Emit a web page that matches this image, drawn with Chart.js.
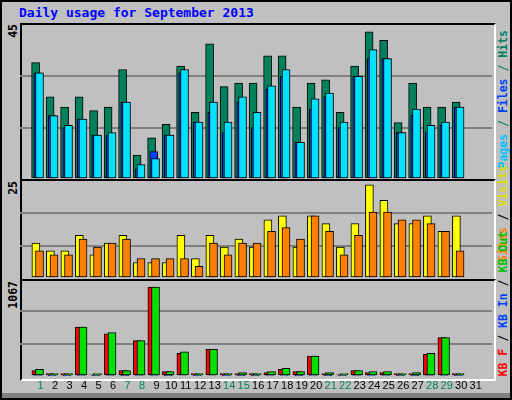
<!DOCTYPE html>
<html>
<head>
<meta charset="utf-8">
<script src="https://cdn.jsdelivr.net/npm/chart.js@4"></script>
<style>
  body { margin: 0; }
  #frame { position: relative; width: 508px; height: 396px; background: #c0c0c0; border: 2px solid #000; overflow: hidden; }
  .panel { position: absolute; left: 18px; width: 472px; background: #c0c0c0;
           border-left: 2px solid #000; border-top: 2px solid #000; border-right: 2px solid #fff; border-bottom: 2px solid #fff; }
  .cv { position: absolute; }
  .vt { position: absolute; writing-mode: vertical-rl; transform: rotate(180deg); font: bold 11.5px "DejaVu Sans Mono", monospace; white-space: nowrap; }
  #title { position: absolute; left: 17px; top: 3px; color: #0000ff; font: bold 13px "DejaVu Sans Mono", monospace; }
  #foot { position: absolute; left: 0; top: 391px; width: 508px; height: 6px; background: #808080; }
</style>
</head>
<body>
<div id="frame">
  <div id="title">Daily usage for September 2013</div>
  <div class="panel" style="top:21px;height:154px"></div>
  <div class="panel" style="top:177px;height:98px"></div>
  <div class="panel" style="top:277px;height:98px"></div>
  <div id="foot"></div>
  <div class="vt" style="left:4px;top:22px;color:#000">45</div>
  <div class="vt" style="left:4px;top:179px;color:#000">25</div>
  <div class="vt" style="left:4px;top:279px;color:#000">1067</div>
  <div class="vt" style="left:494px;bottom:230px;color:#00805c"><span style="color:#00c0ff">Pages</span> / <span style="color:#0040ff">Files</span> / Hits</div>
  <div class="vt" style="left:494px;bottom:136px;"><span style="color:#ff8000">Sites</span> / <span style="color:#e0e000">Visits</span></div>
  <div class="vt" style="left:494px;bottom:22px;"><span style="color:#ff0000">KB F</span> <span style="color:#000">/</span> <span style="color:#0040ff">KB In</span> <span style="color:#000">/</span> <span style="color:#00c000">KB Out</span></div>
  <canvas id="c1" class="cv" style="left:18px;top:23px"></canvas>
  <canvas id="c2" class="cv" style="left:18px;top:179px"></canvas>
  <canvas id="c3" class="cv" style="left:18px;top:277px"></canvas>
</div>
<script>
const days = [1,2,3,4,5,6,7,8,9,10,11,12,13,14,15,16,17,18,19,20,21,22,23,24,25,26,27,28,29,30];
const weekend = [1,7,8,14,15,21,22,28,29];
const hits  = [34,24,21,24,20,21,32,7,12,16,33,19.5,39.5,27,28,28,36,36,21,28,29,19.5,33,43,40.5,16.5,28,21,21,22.5];
const files = [31,18.5,15,17.5,12.8,12.8,22.5,3,8,12.8,31,16.6,19.5,13.6,22.5,15,26.3,30,10.7,20.4,24,15,30,35.2,35.2,13.6,18.6,13.6,15.7,21];
const pages = [31,18.5,15.7,17.5,12.8,13.6,22.5,4.2,6,12.8,32,16.6,22.5,16.6,24,19.5,27.2,32,10.7,23.4,25.1,16.6,30,37.8,35.2,13.6,20.4,15.7,16.6,21];
const visits = [9,7,7,11,6,9,11,4,4,4,11,5,11,8,10,8,15,16,8,16,14,8,14,24,20,14,14,16,12,16];
const sites  = [7,6,6,10,8,9,10,5,5,5,5,3,9,6,9,9,12,13,10,16,12,6,11,17,17,15,15,14,12,7];
const kbF   = [57,25,25,537,11,462,57,388,978,46,249,25,292,25,25,25,36,71,46,217,25,11,57,36,36,25,25,238,420,25];
const kbIn  = [4,2,2,3,1,3,2,3,4,2,6,2,6,2,2,2,3,4,2,3,2,1,4,5,5,2,2,3,3,2];
const kbOut = [71,25,25,537,25,477,57,388,978,46,263,25,292,25,36,25,46,82,46,217,36,25,57,46,46,25,36,249,420,25];
const maxes = [45, 25, 1067];

function pts(vals, off) { return days.map((d, i) => ({ x: d + off, y: vals[i] })); }
function ds(vals, off, color, order) {
  return { data: pts(vals, off), backgroundColor: color, borderColor: "#000", borderWidth: 1,
           barThickness: 8, grouped: false, order: order, borderSkipped: false };
}
function makeChart(id, w, h, max, datasets, showX) {
  const cv = document.getElementById(id);
  cv.width = w; cv.height = h; cv.style.width = w + "px"; cv.style.height = h + "px";
  return new Chart(cv, {
    type: "bar",
    data: { datasets: datasets },
    options: {
      responsive: false, animation: false, devicePixelRatio: 1,
      layout: { padding: 0 },
      plugins: { legend: { display: false }, tooltip: { enabled: false } },
      scales: {
        x: { type: "linear", min: 0.1, max: 31.6, display: showX,
             grid: { display: false, drawTicks: false }, border: { display: false },
             afterBuildTicks: s => { s.ticks = Array.from({ length: 31 }, (_, i) => ({ value: i + 1 })); },
             ticks: { autoSkip: false, maxRotation: 0, padding: 4,
                      font: { family: "Liberation Sans", size: 11 },
                      color: c => weekend.includes(c.tick.value) ? "#008060" : "#000",
                      callback: v => String(v) } },
        y: { min: 0, max: max, display: true,
             afterBuildTicks: s => { s.ticks = [0, max / 3, 2 * max / 3, max].map(v => ({ value: v })); },
             ticks: { display: false }, border: { display: false },
             grid: { drawTicks: false, lineWidth: 2,
                     color: c => (c.index === 1 || c.index === 2) ? "#808080" : "rgba(0,0,0,0)" } }
      }
    }
  });
}

makeChart("c1", 472, 154, maxes[0], [
  ds(hits, -0.35, "#00805c", 3),
  ds(files, -0.2, "#0040ff", 2),
  ds(pages, -0.08, "#00e0ff", 1)
], false);
makeChart("c2", 472, 97, maxes[1], [
  ds(visits, -0.33, "#ffff00", 2),
  ds(sites, -0.08, "#ff8000", 1)
], false);
makeChart("c3", 472, 118, maxes[2], [
  ds(kbF, -0.33, "#ff0000", 3),
  ds(kbIn, -0.2, "#0040ff", 2),
  ds(kbOut, -0.08, "#00e000", 1)
], true);
</script>
</body>
</html>
